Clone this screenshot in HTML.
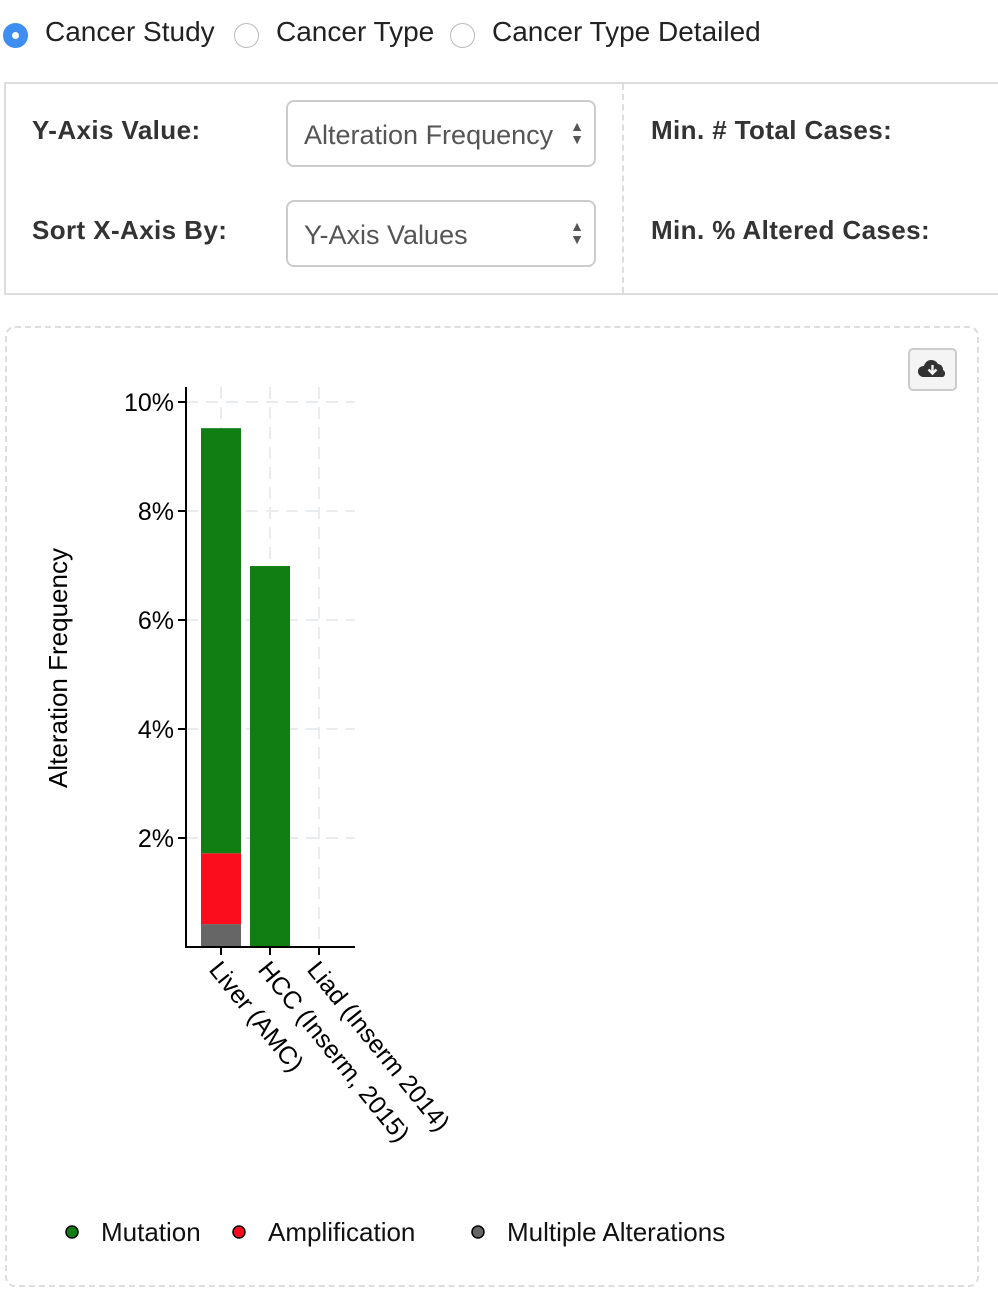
<!DOCTYPE html>
<html><head><meta charset="utf-8">
<style>
body{margin:0;width:998px;height:1304px;background:#fff;font-family:"Liberation Sans",Arial,sans-serif;color:#333;position:relative;overflow:hidden}
.abs{position:absolute}
.radio{width:25px;height:25px;border-radius:50%;border:1px solid #bbb;box-sizing:border-box;background:#fff}
.radio.on{background:#3d8ef0;border-color:#3d8ef0}
.radio.on::after{content:"";position:absolute;left:8px;top:8px;width:7px;height:7px;border-radius:50%;background:#fff}
.rl{font-size:28px;color:#222;top:15px}
.lab{font-size:26px;font-weight:bold;color:#333;letter-spacing:0.4px}
.sel{border:2px solid #ccc;border-radius:8px;box-sizing:border-box;width:310px;height:67px;font-size:27px;color:#555;padding:18px 0 0 16px}
.arr{position:absolute;right:10px;top:18px;font-size:14px;line-height:13px;color:#555}
</style></head><body>
<div class="abs radio on" style="left:3px;top:23px"></div>
<div class="abs rl" style="left:45px;top:16px">Cancer Study</div>
<div class="abs radio" style="left:234px;top:23px"></div>
<div class="abs rl" style="left:276px;top:16px">Cancer Type</div>
<div class="abs radio" style="left:450px;top:23px"></div>
<div class="abs rl" style="left:492px;top:16px">Cancer Type Detailed</div>

<div class="abs" style="left:4px;top:82px;width:1000px;height:213px;border:2px solid #ddd;box-sizing:border-box;border-right:none"></div>
<div class="abs" style="left:622px;top:84px;height:209px;border-left:2px dashed #ddd"></div>
<div class="abs lab" style="left:32px;top:115px">Y-Axis Value:</div>
<div class="abs sel" style="left:286px;top:100px">Alteration Frequency<div class="arr">▲<br>▼</div></div>
<div class="abs lab" style="left:32px;top:215px">Sort X-Axis By:</div>
<div class="abs sel" style="left:286px;top:200px">Y-Axis Values<div class="arr">▲<br>▼</div></div>
<div class="abs lab" style="left:651px;top:115px">Min. # Total Cases:</div>
<div class="abs lab" style="left:651px;top:215px">Min. % Altered Cases:</div>

<div class="abs" style="left:5px;top:326px;width:974px;height:961px;border:2px dashed #ddd;border-radius:10px;box-sizing:border-box"></div>
<div class="abs" style="left:908px;top:348px;width:49px;height:43px;border:2px solid #ccc;border-radius:5px;box-sizing:border-box;background:#f4f4f4">
<svg width="45" height="39" viewBox="0 0 45 39"><path d="M13 27 a5.5 5.5 0 0 1 1-11 a7.5 7.5 0 0 1 14-2 a5.5 5.5 0 0 1 5 6 a4 4 0 0 1 0 7z" fill="#333"/><path d="M22.5 15v8M18.5 19.5l4 4 4-4" stroke="#f4f4f4" stroke-width="2.4" fill="none"/></svg></div>

<svg class="abs" style="left:0;top:0" width="998" height="1304" id="chart"></svg>
<script>
const categories=["Liver (AMC)","HCC (Inserm, 2015)","Liad (Inserm 2014)"];
const multiple=[0.42,0,0];
const amplification=[1.30,0,0];
const mutation=[7.80,6.99,0];
const yTicks=[2,4,6,8,10];
const tickLabels=["2%","4%","6%","8%","10%"];
const seriesNames=["Mutation","Amplification","Multiple Alterations"];
const colors=["#107e12","#fb0d1d","#666666"];

const NS="http://www.w3.org/2000/svg";
const svg=document.getElementById('chart');
const x0=186,x1=355,yBase=947,yTop=402,yMax=10;
const y=v=>yBase-(v/yMax)*(yBase-yTop);
const xc=i=>221+i*49;
function mk(t,a,p){const e=document.createElementNS(NS,t);for(const k in a)e.setAttribute(k,a[k]);(p||svg).appendChild(e);return e;}
yTicks.forEach((t,i)=>{
 const g=mk('line',{x1:x0,x2:x1,y1:y(t),y2:y(t),stroke:'#e8ecef','stroke-width':2,'stroke-dasharray':'12,8'});
 
 
 const tk=mk('line',{x1:x0-8,x2:x0,y1:y(t),y2:y(t),stroke:'#000','stroke-width':2});
 
 
 const tx=mk('text',{x:x0-12,y:y(t)+9,'text-anchor':'end','font-size':25,fill:'#000','font-family':'Liberation Sans, sans-serif'});
 tx.textContent=tickLabels[i];
 
 
});
categories.forEach((c,i)=>{
 const g=mk('line',{x1:xc(i),x2:xc(i),y1:yTop-15,y2:yBase,stroke:'#e8ecef','stroke-width':2,'stroke-dasharray':'12,8'});
 
 
});
categories.forEach((c,i)=>{
 const vals=[multiple[i],amplification[i],mutation[i]];
 const cols=[colors[2],colors[1],colors[0]];
 const names=['bar-multiple','bar-amplification','bar-mutation'];
 let acc=0;
 vals.forEach((v,k)=>{
  if(v<=0)return;
  const r=mk('rect',{x:xc(i)-20,width:40,y:y(acc+v),height:y(acc)-y(acc+v),fill:cols[k]});
  
  
  acc+=v;
 });
});
const ya=mk('line',{x1:x0,x2:x0,y1:yTop-15,y2:yBase+1,stroke:'#000','stroke-width':2});


const xa=mk('line',{x1:x0-1,x2:x1,y1:yBase,y2:yBase,stroke:'#000','stroke-width':2});


categories.forEach((c,i)=>{
 const tk=mk('line',{x1:xc(i),x2:xc(i),y1:yBase,y2:yBase+8,stroke:'#000','stroke-width':2});
 
 
 const t=mk('text',{x:0,y:0,'font-size':25,fill:'#000','font-family':'Liberation Sans, sans-serif',transform:`translate(${xc(i)-13},${yBase+23}) rotate(51)`});
 t.textContent=c;
 
 
});
const yt=mk('text',{x:0,y:0,'font-size':26,fill:'#000','text-anchor':'middle','font-family':'Liberation Sans, sans-serif',transform:'translate(67,668) rotate(-90)'});
yt.textContent='Alteration Frequency';


const lx=[72,239,478];
seriesNames.forEach((n,i)=>{
 const c=mk('circle',{cx:lx[i],cy:1232,r:6,fill:colors[i],stroke:'#000','stroke-width':1.5});
 
 
 const t=mk('text',{x:lx[i]+29,y:1241,'font-size':26,fill:'#111','font-family':'Liberation Sans, sans-serif'});
 t.textContent=n;
 
 
});
</script>
</body></html>
